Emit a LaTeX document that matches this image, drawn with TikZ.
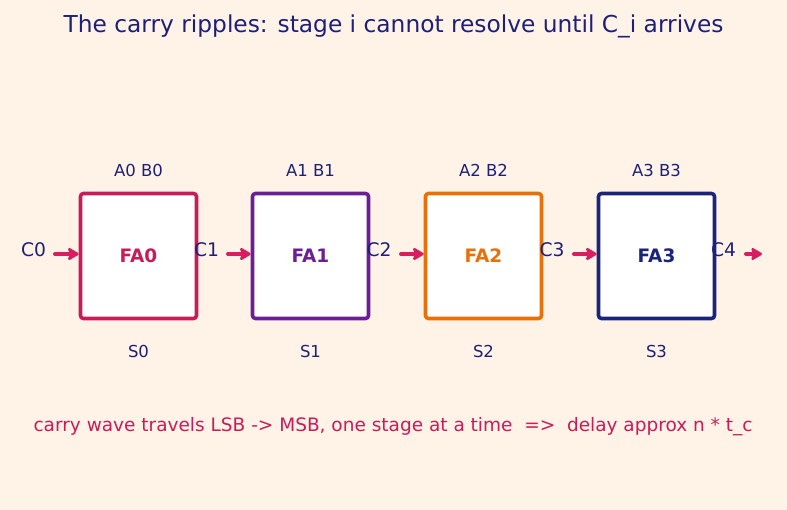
\documentclass[tikz,border=0pt]{standalone}
\usepackage{fontspec}
\setmainfont{DejaVu Sans}
\usetikzlibrary{arrows.meta}
\definecolor{bg}{RGB}{255,242,230}
\definecolor{navy}{RGB}{30,32,120}
\definecolor{crim}{RGB}{200,28,88}
\definecolor{purp}{RGB}{108,30,150}
\definecolor{oran}{RGB}{232,112,8}
\definecolor{fanavy}{RGB}{26,36,122}
\definecolor{arr}{RGB}{214,30,96}
\tikzset{
  fabox/.style={draw=#1, line width=3.6pt, rounded corners=3pt, fill=white,
    minimum width=116pt, minimum height=125pt, inner sep=0pt,
    text=#1, font=\fontsize{18.5}{22}\selectfont\bfseries},
  lbl/.style={text=navy, font=\fontsize{16.5}{19}\selectfont, inner sep=0pt},
  clbl/.style={text=navy, font=\fontsize{18.7}{22}\selectfont, inner sep=0pt},
  carr/.style={draw=arr, line width=4pt, line cap=round, -{Stealth[length=13pt,width=15pt,inset=3pt,round]}}
}
\begin{document}
\begin{tikzpicture}[x=1pt,y=-1pt]
\fill[bg] (0,0) rectangle (787,510);
\useasboundingbox (0,0) rectangle (787,510);
\node[text=navy, font=\fontsize{23.3}{27}\selectfont, inner sep=0pt] (title) at (393.5,26) {The carry ripples: stage i cannot resolve until C\_i arrives};
\foreach \i/\x/\c in {0/138.5/crim,1/310.5/purp,2/483.5/oran,3/656.5/fanavy}{
  \node[fabox=\c] (fa\i) at (\x,256) {FA\i};
  \node[lbl] (ab\i) at (\x,170) {A\i\ B\i};
  \node[lbl] (s\i) at (\x,351) {S\i};
}
\foreach \i/\x in {0/33.5,1/206.5,2/379,3/552,4/723.5}{
  \node[clbl] (c\i) at (\x,250) {C\i};
}
\coordinate (a0s) at (55,254);
\coordinate (a1s) at (228,254);
\coordinate (a2s) at (401,254);
\coordinate (a3s) at (574,254);
\coordinate (a4s) at (746,254);
\coordinate (a4e) at (762,254);
\draw[carr] (a0s) -- (a0s -| fa0.west);
\draw[carr] (a1s) -- (a1s -| fa1.west);
\draw[carr] (a2s) -- (a2s -| fa2.west);
\draw[carr] (a3s) -- (a3s -| fa3.west);
\draw[carr] (a4s) -- (a4e);
\node[text=crim, font=\fontsize{18.5}{22}\selectfont, inner sep=0pt] (note) at (393,427) {carry wave travels LSB -> MSB, one stage at a time \ =>\ \ delay approx n * t\_c};
\end{tikzpicture}
\end{document}
